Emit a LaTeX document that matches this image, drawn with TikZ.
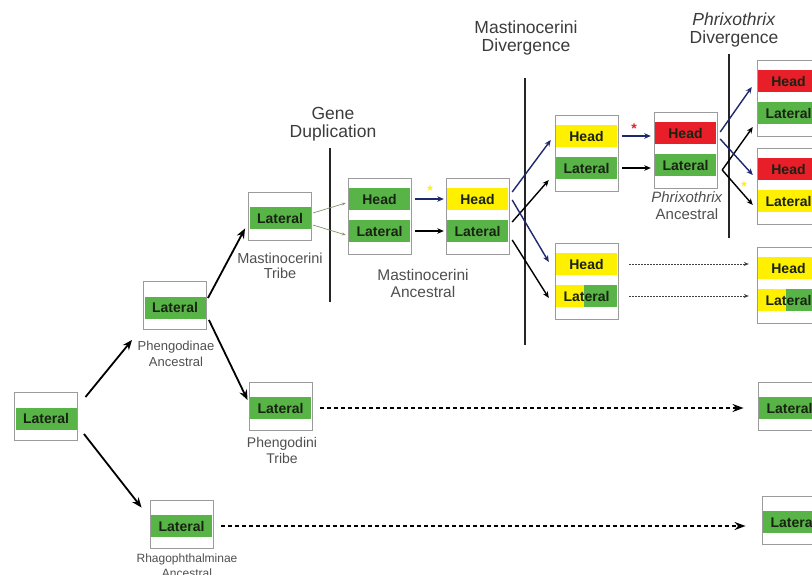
\documentclass[tikz,border=0pt]{standalone}
\usepackage{fontspec}
\setmainfont{Liberation Sans}
\usetikzlibrary{arrows.meta,calc}
\definecolor{grn}{RGB}{88,180,70}
\definecolor{ylw}{RGB}{255,240,0}
\definecolor{redc}{RGB}{232,30,40}
\definecolor{navy}{RGB}{30,40,110}
\definecolor{boxln}{RGB}{155,155,155}
\definecolor{txt}{RGB}{25,35,20}
\definecolor{lblc}{RGB}{80,80,80}
\definecolor{hdrc}{RGB}{60,60,60}
\definecolor{olivel}{RGB}{130,150,110}
\newcommand\fsz[2]{\fontsize{#1}{#2}\selectfont}
\newcommand\mkLat[3]{%
  \node[outerbox, minimum height=48pt] (#1) at (#2,#3) {};
  \node[band, fill=grn] (#1L) at (#2,#3+2) {Lateral};}
\newcommand\mkHL[5]{%
  \node[outerbox, minimum height=76pt, anchor=north] (#1) at (#2,#3) {};
  \node[band, #4] (#1H) at (#2,#3+21) {Head};
  \node[band, #5] (#1L) at (#2,#3+53) {Lateral};}
\begin{document}
\begin{tikzpicture}[x=1pt,y=-1pt,
  outerbox/.style={draw=boxln, line width=0.9pt, fill=white, minimum width=63pt, inner sep=0pt},
  band/.style={minimum width=61pt, minimum height=22pt, inner sep=0pt, text=txt, font=\bfseries\fsz{14}{14}},
  splitband/.style={fill=grn, path picture={\fill[ylw] (path picture bounding box.south west) rectangle ([xshift=-33pt]path picture bounding box.north east);}},
  hdr/.style={align=center, text=hdrc, font=\fsz{17.5}{18}},
  lbl/.style={align=center, text=lblc},
  tree/.style={line width=1.8pt, -{Stealth[length=10pt,width=8pt]}},
  mid/.style={line width=1.4pt, -{Stealth[length=6.5pt,width=5.5pt]}},
  thinar/.style={line width=0.7pt, draw=olivel, -{Stealth[length=4pt,width=3pt]}},
  dotthin/.style={line width=1pt, draw=black!75, dash pattern=on 1.5pt off 1.5pt, -{Stealth[length=5pt,width=4pt]}},
  dotthick/.style={line width=2pt, dash pattern=on 3.5pt off 3.5pt, -{Stealth[length=11pt,width=8pt]}},
  vline/.style={line width=2.2pt, draw=black!85},
  starn/.style={font=\bfseries\fsz{14}{14}, inner sep=0pt}]
\clip (0,0) rectangle (812,575);
\fill[white] (0,0) rectangle (812,575);

% boxes
\mkLat{root}{46}{416.5}
\mkLat{phA}{175}{305.5}
\mkLat{phT}{280.5}{406}
\mkLat{rhA}{181.5}{524}
\mkLat{maT}{280}{216}
\mkLat{phTR}{789.5}{406}
\mkLat{rhR}{793.5}{520}
\mkHL{dup}{379.5}{178}{fill=grn}{fill=grn}
\mkHL{maA}{477.5}{178}{fill=ylw}{fill=grn}
\mkHL{up}{586.5}{115}{fill=ylw}{fill=grn}
\mkHL{phx}{685.5}{112}{fill=redc}{fill=grn}
\mkHL{rt1}{788.5}{60}{fill=redc}{fill=grn}
\mkHL{rt2}{788.5}{148}{fill=redc}{fill=ylw}
\mkHL{lo}{586.5}{243}{fill=ylw}{splitband}
\mkHL{loR}{788.5}{247}{fill=ylw}{splitband}

% vertical divider lines
\draw[vline] (330,148) -- (330,302);
\draw[vline] (525,78) -- (525,345);
\draw[vline] (729,54) -- (729,238);

% headers
\node[hdr] (hGene) at (333,124.5) {Gene\\Duplication};
\node[hdr] (hMast) at (526,38) {Mastinocerini\\Divergence};
\node[hdr] (hPhrx) at (734,29.5) {\textit{Phrixothrix}\\Divergence};

% labels
\node[lbl, font=\fsz{13}{16}] (lphA) at (176,353.5) {Phengodinae\\Ancestral};
\node[lbl, font=\fsz{14}{16}] (lphT) at (282,450) {Phengodini\\Tribe};
\node[lbl, font=\fsz{12}{15}] (lrhA) at (187,566) {Rhagophthalminae\\Ancestral};
\node[lbl, font=\fsz{14.5}{15}] (lmaT) at (280,265.5) {Mastinocerini\\Tribe};
\node[lbl, font=\fsz{15.5}{17}] (lmaA) at (423,283.5) {Mastinocerini\\Ancestral};
\node[lbl, font=\fsz{15}{17}] (lphx) at (687,206) {\textit{Phrixothrix}\\Ancestral};

% tree arrows
\draw[tree] ([shift={(7.5,5)}]root.north east) -- ([shift={(-11,10)}]phA.south west);
\draw[tree] ([shift={(6,-7)}]root.south east) -- ([shift={(-8,8)}]rhA.north west);
\draw[tree] ([shift={(1,17)}]phA.north east) -- ([shift={(-3,-12)}]maT.south west);
\draw[tree] ([shift={(2,14.5)}]phA.east) -- ([shift={(-1,-6)}]phT.west);

% gene duplication
\draw[thinar] ([shift={(1,-3)}]maT.east) -- ([shift={(-3,4)}]dupH.west);
\draw[thinar] ([shift={(1,9)}]maT.east) -- ([shift={(-3,4)}]dupL.west);
\draw[mid, draw=navy] ([xshift=5pt]dupH.east) -- ([xshift=-3pt]maAH.west);
\draw[mid] ([xshift=5pt]dupL.east) -- ([xshift=-3pt]maAL.west);
\node[starn, text=ylw] (star1) at (430,191) {*};

% Mastinocerini divergence
\draw[mid, draw=navy] ([shift={(4,-7)}]maAH.east) -- ([shift={(-5,4)}]upH.west);
\draw[mid] ([shift={(4,-9)}]maAL.east) -- ([shift={(-7,12)}]upL.west);
\draw[mid, draw=navy] ([shift={(4,1)}]maAH.east) -- ([shift={(-7,-2)}]loH.west);
\draw[mid] ([shift={(4,9)}]maAL.east) -- ([shift={(-7,2)}]loL.west);

% to Phrixothrix ancestral
\draw[mid, draw=navy] ([xshift=5pt]upH.east) -- ($(upH.east -| phxH.west)+(-4,0)$);
\draw[mid] ([xshift=5pt]upL.east) -- ($(upL.east -| phxL.west)+(-4,0)$);
\node[starn, text=redc] (star2) at (634,129) {*};

% Phrixothrix divergence
\draw[mid, draw=navy] ([shift={(4,-1)}]phxH.east) -- ([shift={(-6,6)}]rt1H.west);
\draw[mid] ([shift={(6,5)}]phxL.east) -- ([shift={(-5,14)}]rt1L.west);
\draw[mid, draw=navy] ([shift={(4,6)}]phxH.east) -- ([shift={(-5,6)}]rt2H.west);
\draw[mid] ([shift={(6,5)}]phxL.east) -- ([shift={(-5,4)}]rt2L.west);
\node[starn, text=ylw] (star3) at (744,187) {*};

% dotted continuations
\draw[dotthin] ([xshift=12pt]loH.east) -- ($(loH.east -| loRH.west)+(-9,0)$);
\draw[dotthin] ([xshift=12pt]loL.east) -- ($(loL.east -| loRL.west)+(-9,0)$);
\draw[dotthick] ([xshift=9pt]phTL.east) -- ($(phTL.east -| phTR.west)+(-14,0)$);
\draw[dotthick] ([xshift=9pt]rhAL.east) -- ($(rhAL.east -| rhR.west)+(-16,0)$);
\end{tikzpicture}
\end{document}
